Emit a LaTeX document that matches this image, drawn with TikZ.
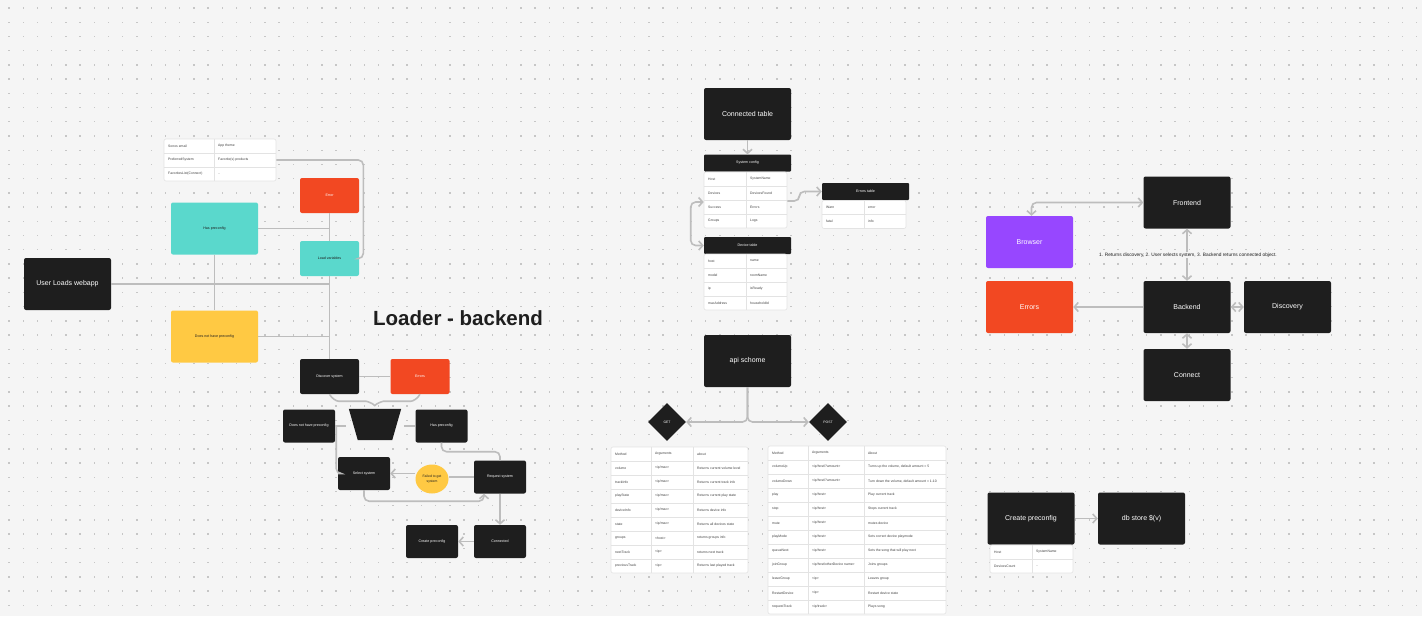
\documentclass[tikz,border=0pt]{standalone}
\usepackage{fontspec}
\setmainfont{Liberation Sans}
\usetikzlibrary{arrows.meta,shapes.geometric,decorations.pathreplacing}
\definecolor{bgc}{HTML}{F5F5F5}
\definecolor{dotc}{HTML}{C6C6C6}
\definecolor{boxc}{HTML}{1E1E1E}
\definecolor{redc}{HTML}{F24822}
\definecolor{tealc}{HTML}{5AD8CC}
\definecolor{yelc}{HTML}{FFC943}
\definecolor{purc}{HTML}{9747FF}
\definecolor{linec}{HTML}{BDBDBD}
\definecolor{sepc}{HTML}{E3E3E3}
\def\fs#1{\fontsize{#1}{#1}\selectfont}

\begin{document}
\begin{tikzpicture}[x=1pt,y=-1pt,
	box/.style={fill=boxc,text=white,rounded corners=2pt,inner sep=0pt,align=center,font=\fs{3.6}},
	bigbox/.style={box,minimum width=87pt,minimum height=52pt,font=\fs{7}},
	midbox/.style={box,minimum width=59pt,minimum height=35pt},
	smallbox/.style={box,minimum width=52pt,minimum height=33pt},
	headbox/.style={box,minimum width=87pt,minimum height=17pt,rounded corners=1pt},
	tbl/.style={draw=sepc,fill=white,rounded corners=2pt,inner sep=0pt,line width=0.6pt},
	cell/.style={anchor=west,inner sep=0pt,font=\fs{3.4},text=black!75},
	sep/.style={draw=sepc,line width=0.6pt},
	conn/.style={draw=linec,line width=1.6pt,rounded corners=5pt},
	arr/.style={conn,-{Straight Barb[length=4pt,width=9pt]}},
	darr/.style={conn,{Straight Barb[length=4pt,width=9pt]}-{Straight Barb[length=4pt,width=9pt]}}]
		%%%%% START %%%%%
		
		\useasboundingbox (0,0) rectangle (1422,616);
		\fill[bgc] (0,0) rectangle (1422,616);
		\foreach \x in {9,23.22,...,1422} {\foreach \y in {8,22.22,...,616} {\fill[dotc] (\x-0.7,\y-0.7) rectangle (\x+0.7,\y+0.7);}}
		
		% loader
		\node[tbl,minimum width=112pt,minimum height=42pt] (prefs) at (220,160) {};
		\foreach \a/\b [count=\i from 0] in {Sonos email/App theme, PreferredSystem/Favorite(s) products, FavoritesList(Connect)/..} {
			\node[cell] (prefs\i a) at (168,146+14*\i) {\a};
			\node[cell] (prefs\i b) at (218,146+14*\i) {\b};
			\ifnum\i>0 \draw[sep] (164,139+14*\i) -- (276,139+14*\i); \fi
		}
		\draw[sep] (214,139) -- (214,181);
		
		\node[midbox,fill=redc] (err1) at (329.5,195.5) {Error};
		\node[bigbox,fill=tealc,text=boxc,font=\fs{3.6}] (haspre) at (214.5,228.5) {Has preconfig};
		\node[midbox,fill=tealc,text=boxc] (loadvar) at (329.5,258.5) {Load variables};
		\node[bigbox] (webapp) at (67.5,284) {User Loads webapp};
		\node[bigbox,fill=yelc,text=boxc,font=\fs{3.6}] (nopre) at (214.5,336.5) {Does not have preconfig};
		\node[font=\bfseries\fs{20.5},text=boxc,inner sep=0pt] (title) at (458,318) {Loader - backend};
		\node[midbox] (discover) at (329.5,376.5) {Discover system};
		\node[midbox,fill=redc] (err2) at (420,376.5) {Errors};
		\node[minimum width=52pt,minimum height=31pt,inner sep=0pt] (trap) at (375,424.5) {};
		\fill[boxc] (trap.north west) -- (trap.north east) -- ([xshift=-9pt]trap.south east) -- ([xshift=9pt]trap.south west) -- cycle;
		\node[smallbox] (nopre2) at (309,426) {Does not have preconfig};
		\node[smallbox] (haspre2) at (441.5,426) {Has preconfig};
		\node[smallbox] (select) at (364,473.5) {Select system};
		\node[ellipse,fill=yelc,minimum width=33pt,minimum height=29pt,inner sep=0pt,align=center,font=\fontsize{3.4}{4.4}\selectfont,text=boxc] (failed) at (432,479) {Failed to get\\system};
		\node[smallbox] (request) at (500,477) {Request system};
		\node[smallbox] (connected) at (500,541.5) {Connected};
		\node[smallbox] (createpre) at (432,541.5) {Create preconfig};
		
		\draw[conn] (prefs.east) -- ++(87,0) |- (loadvar.east);
		\draw[conn] (err1) -- (loadvar);
		\draw[conn] (haspre.east) -- (haspre.east -| loadvar);
		\draw[conn] (webapp.east) -- (webapp.east -| discover);
		\draw[conn] (haspre) -- (nopre);
		\draw[conn] (loadvar) -- (discover);
		\draw[conn] (nopre.east) -- (nopre.east -| discover);
		\draw[conn] (discover) -- (err2);
		\draw[conn,decorate,decoration={brace,mirror,amplitude=14pt}] (discover.south) -- (err2.south);
		\draw[conn] (nopre2.east) -- ([xshift=-3pt]nopre2.east -| trap.west);
		\draw[conn] ([xshift=3pt]trap.east |- haspre2.west) -- (haspre2.west);
		\draw[conn] ([xshift=1pt]nopre2.east) |- (select.west);
		\draw[conn] (haspre2.south) -- ++(0,9) -| (request.north);
		\draw[conn] (request.west) -- (request.west -| failed.east);
		\draw[arr] (failed.west |- select.east) -- (select.east);
		\draw[arr] (select.south) -- ++(0,11) -| ([xshift=-16pt]request.south);
		\draw[arr] (request) -- (connected);
		\draw[arr] (connected) -- (createpre);
		
		% tables
		\node[bigbox] (contbl) at (747.5,114) {Connected table};
		\node[headbox] (syshead) at (747.5,163) {System config};
		\node[tbl,minimum width=83pt,minimum height=56pt] (systbl) at (745.5,200) {};
		\foreach \a/\b [count=\i from 0] in {Host/SystemName, Devices/DevicesFound, Success/Errors, Groups/Logs} {
			\node[cell] (sys\i a) at (708,179+14*\i) {\a};
			\node[cell] (sys\i b) at (750,179+14*\i) {\b};
			\ifnum\i>0 \draw[sep] (704,172+14*\i) -- (787,172+14*\i); \fi
		}
		\draw[sep] (746,172) -- (746,228);
		
		\node[headbox] (errhead) at (865.5,191.5) {Errors table};
		\node[tbl,minimum width=84pt,minimum height=28pt] (errtbl) at (864,214.5) {};
		\foreach \a/\b [count=\i from 0] in {Warn/error, fatal/info} {
			\node[cell] (err\i a) at (826,207.5+14*\i) {\a};
			\node[cell] (err\i b) at (868,207.5+14*\i) {\b};
			\ifnum\i>0 \draw[sep] (822,200.5+14*\i) -- (906,200.5+14*\i); \fi
		}
		\draw[sep] (864,200.5) -- (864,228.5);
		
		\node[headbox] (devhead) at (747.5,245.5) {Device table};
		\node[tbl,minimum width=83pt,minimum height=56pt] (devtbl) at (745.5,282) {};
		\foreach \a/\b [count=\i from 0] in {host/name, model/roomName, ip/isReady, macAddress/householdId} {
			\node[cell] (dev\i a) at (708,261+14*\i) {\a};
			\node[cell] (dev\i b) at (750,261+14*\i) {\b};
			\ifnum\i>0 \draw[sep] (704,254+14*\i) -- (787,254+14*\i); \fi
		}
		\draw[sep] (746,254) -- (746,310);
		
		\draw[arr] (contbl) -- (syshead);
		\draw[arr] ([yshift=-1pt]systbl.east) -- ++(12,0) |- (errhead.west);
		\draw[darr] ([yshift=-2pt]systbl.west) -- ++(-13,0) |- (devhead.west);
		
		% api
		\node[bigbox] (api) at (747.5,361) {api schome};
		\node[diamond,fill=boxc,text=white,minimum size=38pt,inner sep=0pt,font=\fs{3.4}] (get) at (667,422) {GET};
		\node[diamond,fill=boxc,text=white,minimum size=38pt,inner sep=0pt,font=\fs{3.4}] (post) at (828,422) {POST};
		\draw[arr] (api.south) |- (get.east);
		\draw[arr] (api.south) |- (post.west);
		
		\node[tbl,minimum width=137pt,minimum height=126pt] (gettbl) at (679.5,510) {};
		\foreach \a/\b/\c [count=\i from 0] in {Method/Arguments/about, volume/{<ip/mac>}/Returns current volume level, trackInfo/{<ip/mac>}/Returns current track info, playState/{<ip/mac>}/Returns current play state, deviceInfo/{<ip/mac>}/Returns device info, state/{<ip/mac>}/Returns all devices state, groups/{<host>}/returns groups info, nextTrack/{<ip>}/returns next track, previousTrack/{<ip>}/Returns last played track} {
			\node[cell] (get\i a) at (615,454+14*\i) {\a};
			\node[cell] (get\i b) at (655,454+14*\i) {\b};
			\node[cell] (get\i c) at (697,454+14*\i) {\c};
			\ifnum\i>0 \draw[sep] (611,447+14*\i) -- (748,447+14*\i); \fi
		}
		\draw[sep] (651,447) -- (651,573);
		\draw[sep] (693,447) -- (693,573);
		
		\node[tbl,minimum width=178pt,minimum height=168pt] (posttbl) at (857,530) {};
		\foreach \a/\b/\c [count=\i from 0] in {Method/Arguments/About, volumeUp/{<ip/host/?amount>}/{Turns up the volume, default amount = 5}, volumeDown/{<ip/host/?amount>}/{Turn down the volume, default amount = 1-10}, play/{<ip/host>}/Play current track, stop/{<ip/host>}/Stops current track, mute/{<ip/host>}/mutes device, playMode/{<ip/host>}/Sets correct device playmode, queueNext/{<ip/host>}/Sets the song that will play next, joinGroup/{<ip/host/otherDevice name>}/Joins groups, leaveGroup/{<ip>}/Leaves group, RestartDevice/{<ip>}/Restart device state, requestTrack/{<ip/track>}/Plays song} {
			\node[cell] (post\i a) at (772,453+14*\i) {\a};
			\node[cell] (post\i b) at (812,453+14*\i) {\b};
			\node[cell] (post\i c) at (868,453+14*\i) {\c};
			\ifnum\i>0 \draw[sep] (768,446+14*\i) -- (946,446+14*\i); \fi
		}
		\draw[sep] (808,446) -- (808,614);
		\draw[sep] (864,446) -- (864,614);
		
		% frontend / backend
		\node[bigbox] (frontend) at (1187,202.5) {Frontend};
		\node[bigbox,fill=purc] (browser) at (1029.5,242) {Browser};
		\node[bigbox] (backend) at (1187,307) {Backend};
		\node[bigbox] (discovery) at (1287.5,307) {Discovery};
		\node[bigbox,fill=redc] (errs3) at (1029.5,307) {Errors};
		\node[bigbox] (connect) at (1187,375) {Connect};
		
		\draw[darr] ([xshift=2pt]browser.north) |- (frontend.west);
		\draw[darr] (frontend) -- (backend);
		\node[fill=bgc,inner sep=1pt,font=\fs{4.8},text=boxc] (flow) at (1188,255) {1. Returns discovery, 2. User selects system, 3. Backend returns connected object.};
		\draw[darr] (backend) -- (discovery);
		\draw[arr] (backend) -- (errs3);
		\draw[darr] (backend) -- (connect);
		
		\node[bigbox] (createpre2) at (1031,518.5) {Create preconfig};
		\node[bigbox] (dbstore) at (1141.5,518.5) {db store \$(v)};
		\draw[arr] (createpre2) -- (dbstore);
		\node[tbl,minimum width=83pt,minimum height=28pt] (pretbl) at (1031.5,559) {};
		\foreach \a/\b [count=\i from 0] in {Host/SystemName, DevicesCount/..} {
			\node[cell] (pre\i a) at (994,552+14*\i) {\a};
			\node[cell] (pre\i b) at (1036,552+14*\i) {\b};
			\ifnum\i>0 \draw[sep] (990,545+14*\i) -- (1073,545+14*\i); \fi
		}
		\draw[sep] (1032,545) -- (1032,573);
		
		%%%%% END %%%%%
\end{tikzpicture}
\end{document}
